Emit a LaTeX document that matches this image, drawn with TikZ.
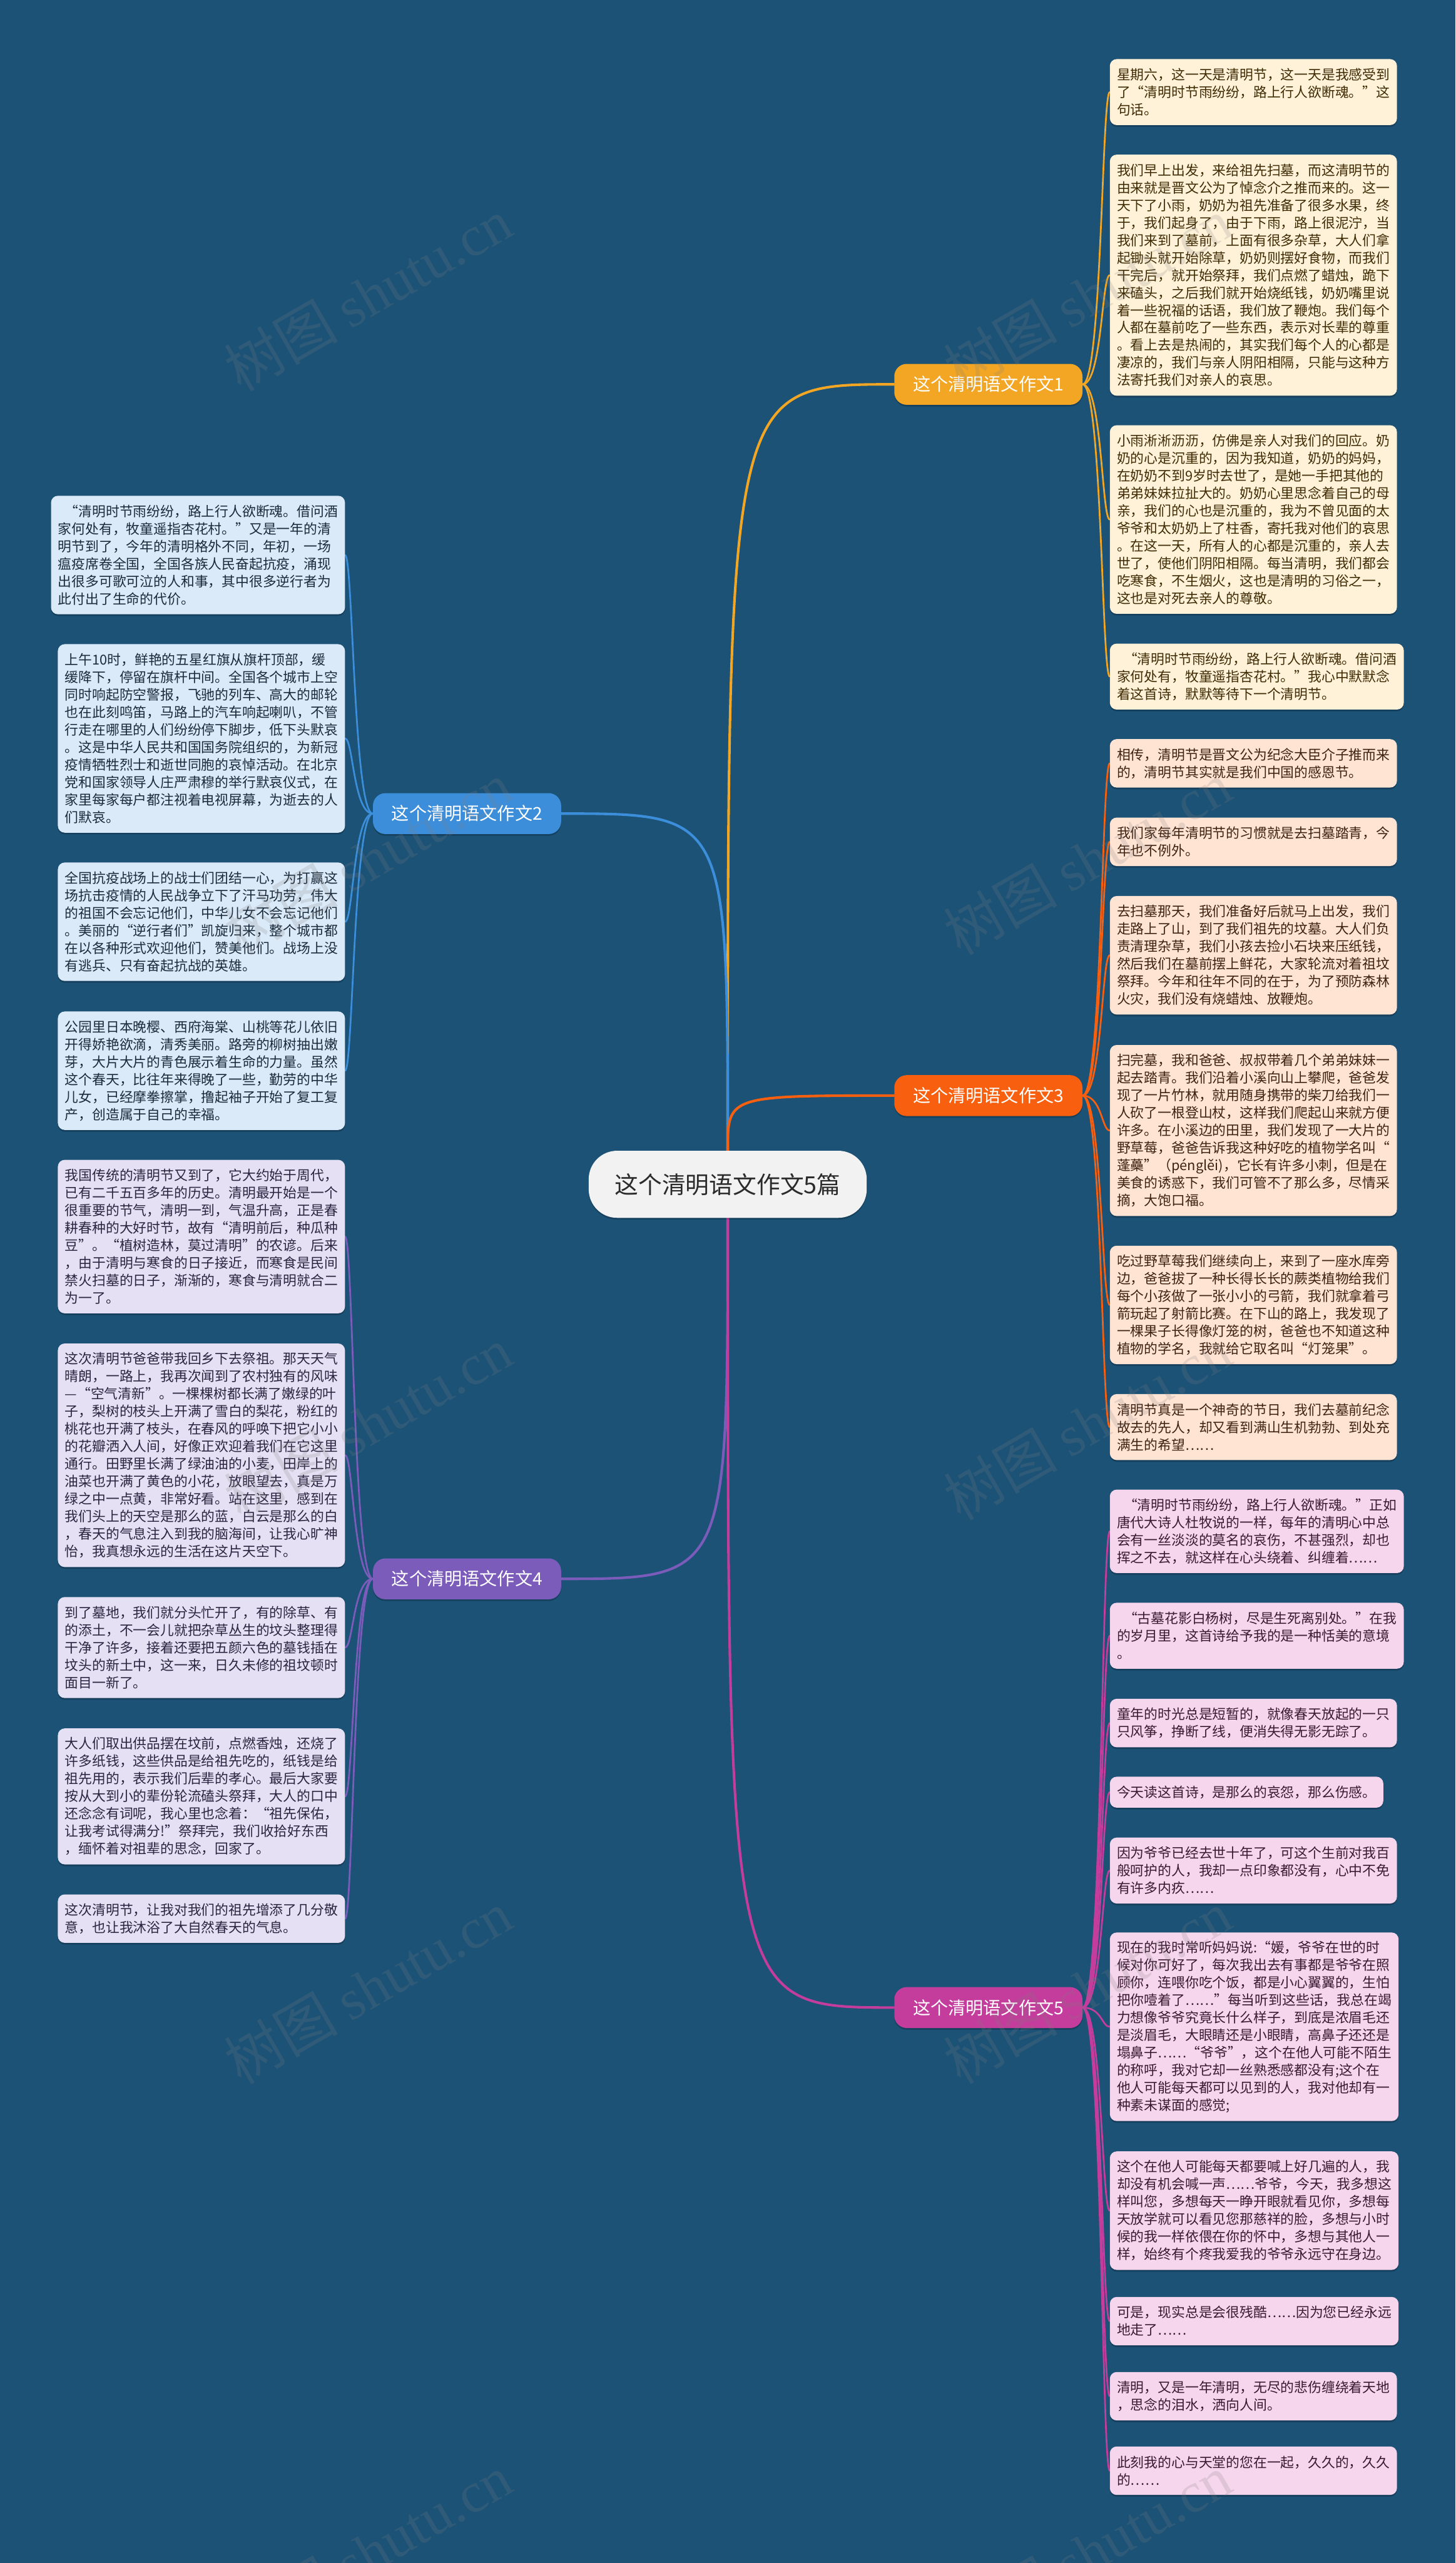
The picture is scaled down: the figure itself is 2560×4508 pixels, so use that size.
\documentclass[tikz,border=0pt]{standalone}
\usepackage{fontspec}
\setmainfont{Noto Sans CJK SC}
\newfontfamily\wmfont{Liberation Serif}
\usetikzlibrary{shadows,calc}
\pgfdeclarelayer{back}
\pgfdeclarelayer{bg}
\pgfsetlayers{back,bg,main}

\definecolor{bgblue}{HTML}{1B5276}
\definecolor{cGold}{HTML}{F2A623}
\definecolor{cOrange}{HTML}{F8600F}
\definecolor{cMag}{HTML}{C43C9C}
\definecolor{cBlue}{HTML}{3C8EDA}
\definecolor{cPurp}{HTML}{7B5CBA}
\definecolor{fGold}{HTML}{FFF2D8}
\definecolor{fOrange}{HTML}{FFE4D4}
\definecolor{fMag}{HTML}{F6D6EC}
\definecolor{fBlue}{HTML}{DAEAF8}
\definecolor{fPurp}{HTML}{E5E0F3}
\definecolor{tGold}{HTML}{3F2C05}
\definecolor{tOrange}{HTML}{3E2212}
\definecolor{tMag}{HTML}{3A1A32}
\definecolor{tBlue}{HTML}{1C2B3B}
\definecolor{tPurp}{HTML}{2A2540}
\definecolor{rootfill}{HTML}{F2F2F2}
\definecolor{roottext}{HTML}{2B2B2B}

\newcommand\leaffont{\fontsize{24pt}{30.8pt}\selectfont}
\newcommand\brfont{\fontsize{31pt}{34pt}\selectfont}
\newcommand\rootfont{\fontsize{41.6pt}{46pt}\selectfont}

% #1 name, #2 style, #3 x, #4 top y, #5 number of lines, #6 text
\newcommand\leafbox[6]{%
  \pgfmathsetmacro\lbh{30.8*#5+23.6}%
  \pgfmathsetmacro\lby{#4+\lbh/2}%
  \node[#2, minimum height=\lbh pt] (#1) at (#3,\lby) {#6};%
}

\begin{document}
\begin{tikzpicture}[x=1pt,y=-1pt,
  leaf/.style={rounded corners=12pt, inner xsep=12.5pt, inner ysep=0pt,
    align=left, font=\leaffont,
    drop shadow={shadow xshift=0pt, shadow yshift=-3pt, opacity=0.22, fill=black}},
  leafR/.style={leaf, anchor=west},
  leafL/.style={leaf, anchor=east},
  lgold/.style={leafR, fill=fGold, text=tGold},
  lorange/.style={leafR, fill=fOrange, text=tOrange},
  lmag/.style={leafR, fill=fMag, text=tMag},
  lblue/.style={leafL, fill=fBlue, text=tBlue},
  lpurp/.style={leafL, fill=fPurp, text=tPurp},
  branch/.style={rounded corners=22pt, minimum width=331pt, minimum height=72pt,
    inner sep=0pt, font=\brfont, text=white,
    drop shadow={shadow xshift=0pt, shadow yshift=-3pt, opacity=0.2, fill=black}},
  rootnode/.style={rounded corners=50pt, minimum width=489pt, minimum height=118pt,
    inner sep=0pt, fill=rootfill, text=roottext, font=\rootfont,
    drop shadow={shadow xshift=0pt, shadow yshift=-3pt, opacity=0.2, fill=black}},
  mainlink/.style={line width=4.5pt, line cap=round},
  sublink/.style={line width=3pt, line cap=round},
  wm/.style={text=gray, opacity=0.2, rotate=30, font=\fontsize{100pt}{100pt}\selectfont}
]
\useasboundingbox (0,0) rectangle (2560,4508);
\begin{pgfonlayer}{back}
  \fill[bgblue] (0,0) rectangle (2560,4508);
\end{pgfonlayer}

% ---------------- root and branches ----------------
\node[rootnode] (root) at (1280,2083) {这个清明语文作文5篇};
\node[branch, fill=cGold]   (br1) at (1738.5,676)  {这个清明语文作文1};
\node[branch, fill=cBlue]   (br2) at (821.5,1431)  {这个清明语文作文2};
\node[branch, fill=cOrange] (br3) at (1738.5,1927) {这个清明语文作文3};
\node[branch, fill=cPurp]   (br4) at (821.5,2777)  {这个清明语文作文4};
\node[branch, fill=cMag]    (br5) at (1738.5,3531) {这个清明语文作文5};

% ---------------- branch 1 leaves ----------------
\leafbox{a1}{lgold}{1952}{104}{3}{星期六，这一天是清明节，这一天是我感受到\\了“清明时节雨纷纷，路上行人欲断魂。”这\\句话。}
\leafbox{a2}{lgold}{1952}{272}{13}{我们早上出发，来给祖先扫墓，而这清明节的\\由来就是晋文公为了悼念介之推而来的。这一\\天下了小雨，奶奶为祖先准备了很多水果，终\\于，我们起身了，由于下雨，路上很泥泞，当\\我们来到了墓前，上面有很多杂草，大人们拿\\起锄头就开始除草，奶奶则摆好食物，而我们\\干完后，就开始祭拜，我们点燃了蜡烛，跪下\\来磕头，之后我们就开始烧纸钱，奶奶嘴里说\\着一些祝福的话语，我们放了鞭炮。我们每个\\人都在墓前吃了一些东西，表示对长辈的尊重\\。看上去是热闹的，其实我们每个人的心都是\\凄凉的，我们与亲人阴阳相隔，只能与这种方\\法寄托我们对亲人的哀思。}
\leafbox{a3}{lgold}{1952}{748}{10}{小雨淅淅沥沥，仿佛是亲人对我们的回应。奶\\奶的心是沉重的，因为我知道，奶奶的妈妈，\\在奶奶不到9岁时去世了，是她一手把其他的\\弟弟妹妹拉扯大的。奶奶心里思念着自己的母\\亲，我们的心也是沉重的，我为不曾见面的太\\爷爷和太奶奶上了柱香，寄托我对他们的哀思\\。在这一天，所有人的心都是沉重的，亲人去\\世了，使他们阴阳相隔。每当清明，我们都会\\吃寒食，不生烟火，这也是清明的习俗之一，\\这也是对死去亲人的尊敬。}
\leafbox{a4}{lgold}{1952}{1132}{3}{\hspace*{0.5em}“清明时节雨纷纷，路上行人欲断魂。借问酒\\家何处有，牧童遥指杏花村。”我心中默默念\\着这首诗，默默等待下一个清明节。}

% ---------------- branch 3 leaves ----------------
\leafbox{c1}{lorange}{1952}{1300}{2}{相传，清明节是晋文公为纪念大臣介子推而来\\的，清明节其实就是我们中国的感恩节。}
\leafbox{c2}{lorange}{1952}{1438}{2}{我们家每年清明节的习惯就是去扫墓踏青，今\\年也不例外。}
\leafbox{c3}{lorange}{1952}{1576}{6}{去扫墓那天，我们准备好后就马上出发，我们\\走路上了山，到了我们祖先的坟墓。大人们负\\责清理杂草，我们小孩去捡小石块来压纸钱，\\然后我们在墓前摆上鲜花，大家轮流对着祖坟\\祭拜。今年和往年不同的在于，为了预防森林\\火灾，我们没有烧蜡烛、放鞭炮。}
\leafbox{c4}{lorange}{1952}{1838}{9}{扫完墓，我和爸爸、叔叔带着几个弟弟妹妹一\\起去踏青。我们沿着小溪向山上攀爬，爸爸发\\现了一片竹林，就用随身携带的柴刀给我们一\\人砍了一根登山杖，这样我们爬起山来就方便\\许多。在小溪边的田里，我们发现了一大片的\\野草莓，爸爸告诉我这种好吃的植物学名叫“\\蓬蘽”（pénglěi)，它长有许多小刺，但是在\\美食的诱惑下，我们可管不了那么多，尽情采\\摘，大饱口福。}
\leafbox{c5}{lorange}{1952}{2191}{6}{吃过野草莓我们继续向上，来到了一座水库旁\\边，爸爸拔了一种长得长长的蕨类植物给我们\\每个小孩做了一张小小的弓箭，我们就拿着弓\\箭玩起了射箭比赛。在下山的路上，我发现了\\一棵果子长得像灯笼的树，爸爸也不知道这种\\植物的学名，我就给它取名叫“灯笼果”。}
\leafbox{c6}{lorange}{1952}{2452}{3}{清明节真是一个神奇的节日，我们去墓前纪念\\故去的先人，却又看到满山生机勃勃、到处充\\满生的希望……}

% ---------------- branch 5 leaves ----------------
\leafbox{e1}{lmag}{1952}{2620}{4}{\hspace*{0.5em}“清明时节雨纷纷，路上行人欲断魂。”正如\\唐代大诗人杜牧说的一样，每年的清明心中总\\会有一丝淡淡的莫名的哀伤，不甚强烈，却也\\挥之不去，就这样在心头绕着、纠缠着……}
\leafbox{e2}{lmag}{1952}{2819}{3}{\hspace*{0.5em}“古墓花影白杨树，尽是生死离别处。”在我\\的岁月里，这首诗给予我的是一种恬美的意境\\。}
\leafbox{e3}{lmag}{1952}{2988}{2}{童年的时光总是短暂的，就像春天放起的一只\\只风筝，挣断了线，便消失得无影无踪了。}
\leafbox{e4}{lmag}{1952}{3125}{1}{今天读这首诗，是那么的哀怨，那么伤感。}
\leafbox{e5}{lmag}{1952}{3232}{3}{因为爷爷已经去世十年了，可这个生前对我百\\般呵护的人，我却一点印象都没有，心中不免\\有许多内疚……}
\leafbox{e6}{lmag}{1952}{3399}{10}{现在的我时常听妈妈说:“媛，爷爷在世的时\\候对你可好了，每次我出去有事都是爷爷在照\\顾你，连喂你吃个饭，都是小心翼翼的，生怕\\把你噎着了……”每当听到这些话，我总在竭\\力想像爷爷究竟长什么样子，到底是浓眉毛还\\是淡眉毛，大眼睛还是小眼睛，高鼻子还还是\\塌鼻子……“爷爷”，这个在他人可能不陌生\\的称呼，我对它却一丝熟悉感都没有;这个在\\他人可能每天都可以见到的人，我对他却有一\\种素未谋面的感觉;}
\leafbox{e7}{lmag}{1952}{3784}{6}{这个在他人可能每天都要喊上好几遍的人，我\\却没有机会喊一声……爷爷，今天，我多想这\\样叫您，多想每天一睁开眼就看见你，多想每\\天放学就可以看见您那慈祥的脸，多想与小时\\候的我一样依偎在你的怀中，多想与其他人一\\样，始终有个疼我爱我的爷爷永远守在身边。}
\leafbox{e8}{lmag}{1952}{4040}{2}{可是，现实总是会很残酷……因为您已经永远\\地走了……}
\leafbox{e9}{lmag}{1952}{4172}{2}{清明，又是一年清明，无尽的悲伤缠绕着天地\\，思念的泪水，洒向人间。}
\leafbox{e10}{lmag}{1952}{4303}{2}{此刻我的心与天堂的您在一起，久久的，久久\\的……}

% ---------------- branch 2 leaves ----------------
\leafbox{d1}{lblue}{607}{872}{6}{\hspace*{0.5em}“清明时节雨纷纷，路上行人欲断魂。借问酒\\家何处有，牧童遥指杏花村。”又是一年的清\\明节到了，今年的清明格外不同，年初，一场\\瘟疫席卷全国，全国各族人民奋起抗疫，涌现\\出很多可歌可泣的人和事，其中很多逆行者为\\此付出了生命的代价。}
\leafbox{d2}{lblue}{607}{1133}{10}{上午10时，鲜艳的五星红旗从旗杆顶部，缓\\缓降下，停留在旗杆中间。全国各个城市上空\\同时响起防空警报，飞驰的列车、高大的邮轮\\也在此刻鸣笛，马路上的汽车响起喇叭，不管\\行走在哪里的人们纷纷停下脚步，低下头默哀\\。这是中华人民共和国国务院组织的，为新冠\\疫情牺牲烈士和逝世同胞的哀悼活动。在北京\\党和国家领导人庄严肃穆的举行默哀仪式，在\\家里每家每户都注视着电视屏幕，为逝去的人\\们默哀。}
\leafbox{d3}{lblue}{607}{1517}{6}{全国抗疫战场上的战士们团结一心，为打赢这\\场抗击疫情的人民战争立下了汗马功劳，伟大\\的祖国不会忘记他们，中华儿女不会忘记他们\\。美丽的“逆行者们”凯旋归来，整个城市都\\在以各种形式欢迎他们，赞美他们。战场上没\\有逃兵、只有奋起抗战的英雄。}
\leafbox{d4}{lblue}{607}{1779}{6}{公园里日本晚樱、西府海棠、山桃等花儿依旧\\开得娇艳欲滴，清秀美丽。路旁的柳树抽出嫩\\芽，大片大片的青色展示着生命的力量。虽然\\这个春天，比往年来得晚了一些，勤劳的中华\\儿女，已经摩拳擦掌，撸起袖子开始了复工复\\产，创造属于自己的幸福。}

% ---------------- branch 4 leaves ----------------
\leafbox{f1}{lpurp}{607}{2040}{8}{我国传统的清明节又到了，它大约始于周代，\\已有二千五百多年的历史。清明最开始是一个\\很重要的节气，清明一到，气温升高，正是春\\耕春种的大好时节，故有“清明前后，种瓜种\\豆”。“植树造林，莫过清明”的农谚。后来\\，由于清明与寒食的日子接近，而寒食是民间\\禁火扫墓的日子，渐渐的，寒食与清明就合二\\为一了。}
\leafbox{f2}{lpurp}{607}{2363}{12}{这次清明节爸爸带我回乡下去祭祖。那天天气\\晴朗，一路上，我再次闻到了农村独有的风味\\—“空气清新”。一棵棵树都长满了嫩绿的叶\\子，梨树的枝头上开满了雪白的梨花，粉红的\\桃花也开满了枝头，在春风的呼唤下把它小小\\的花瓣洒入人间，好像正欢迎着我们在它这里\\通行。田野里长满了绿油油的小麦，田岸上的\\油菜也开满了黄色的小花，放眼望去，真是万\\绿之中一点黄，非常好看。站在这里，感到在\\我们头上的天空是那么的蓝，白云是那么的白\\，春天的气息注入到我的脑海间，让我心旷神\\怡，我真想永远的生活在这片天空下。}
\leafbox{f3}{lpurp}{607}{2809}{5}{到了墓地，我们就分头忙开了，有的除草、有\\的添土，不一会儿就把杂草丛生的坟头整理得\\干净了许多，接着还要把五颜六色的墓钱插在\\坟头的新土中，这一来，日久未修的祖坟顿时\\面目一新了。}
\leafbox{f4}{lpurp}{607}{3040}{7}{大人们取出供品摆在坟前，点燃香烛，还烧了\\许多纸钱，这些供品是给祖先吃的，纸钱是给\\祖先用的，表示我们后辈的孝心。最后大家要\\按从大到小的辈份轮流磕头祭拜，大人的口中\\还念念有词呢，我心里也念着：“祖先保佑，\\让我考试得满分!”祭拜完，我们收拾好东西\\，缅怀着对祖辈的思念，回家了。}
\leafbox{f5}{lpurp}{607}{3332}{2}{这次清明节，让我对我们的祖先增添了几分敬\\意，也让我沐浴了大自然春天的气息。}

% ---------------- connectors ----------------
\begin{pgfonlayer}{bg}
  \draw[mainlink, cGold]   (root.north) .. controls (root.north |- br1.west) .. (br1.west);
  \draw[mainlink, cBlue]   (root.north) .. controls (root.north |- br2.east) .. (br2.east);
  \draw[mainlink, cOrange] (root.north) .. controls (root.north |- br3.west) .. (br3.west);
  \draw[mainlink, cPurp]   (root.south) .. controls (root.south |- br4.east) .. (br4.east);
  \draw[mainlink, cMag]    (root.south) .. controls (root.south |- br5.west) .. (br5.west);
  \foreach \n in {a1,a2,a3,a4}
    \draw[sublink, cGold] (br1.east) .. controls +(34,0) and +(-14,0) .. (\n.west);
  \foreach \n in {c1,c2,c3,c4,c5,c6}
    \draw[sublink, cOrange] (br3.east) .. controls +(34,0) and +(-14,0) .. (\n.west);
  \foreach \n in {e1,e2,e3,e4,e5,e6,e7,e8,e9,e10}
    \draw[sublink, cMag] (br5.east) .. controls +(34,0) and +(-14,0) .. (\n.west);
  \foreach \n in {d1,d2,d3,d4}
    \draw[sublink, cBlue] (br2.west) .. controls +(-34,0) and +(14,0) .. (\n.east);
  \foreach \n in {f1,f2,f3,f4,f5}
    \draw[sublink, cPurp] (br4.west) .. controls +(-34,0) and +(14,0) .. (\n.east);
\end{pgfonlayer}

% ---------------- watermarks ----------------
\foreach \wx/\wy/\wn in {647/518/w1, 1913/518/w2, 647/1510/w3, 1913/1510/w4,
    647/2503/w5, 1913/2503/w6, 647/3495/w7, 1913/3495/w8, 647/4487/w9, 1913/4487/w10}
  \node[wm] (\wn) at (\wx,\wy) {树图 {\wmfont shutu.cn}};
\end{tikzpicture}
\end{document}
